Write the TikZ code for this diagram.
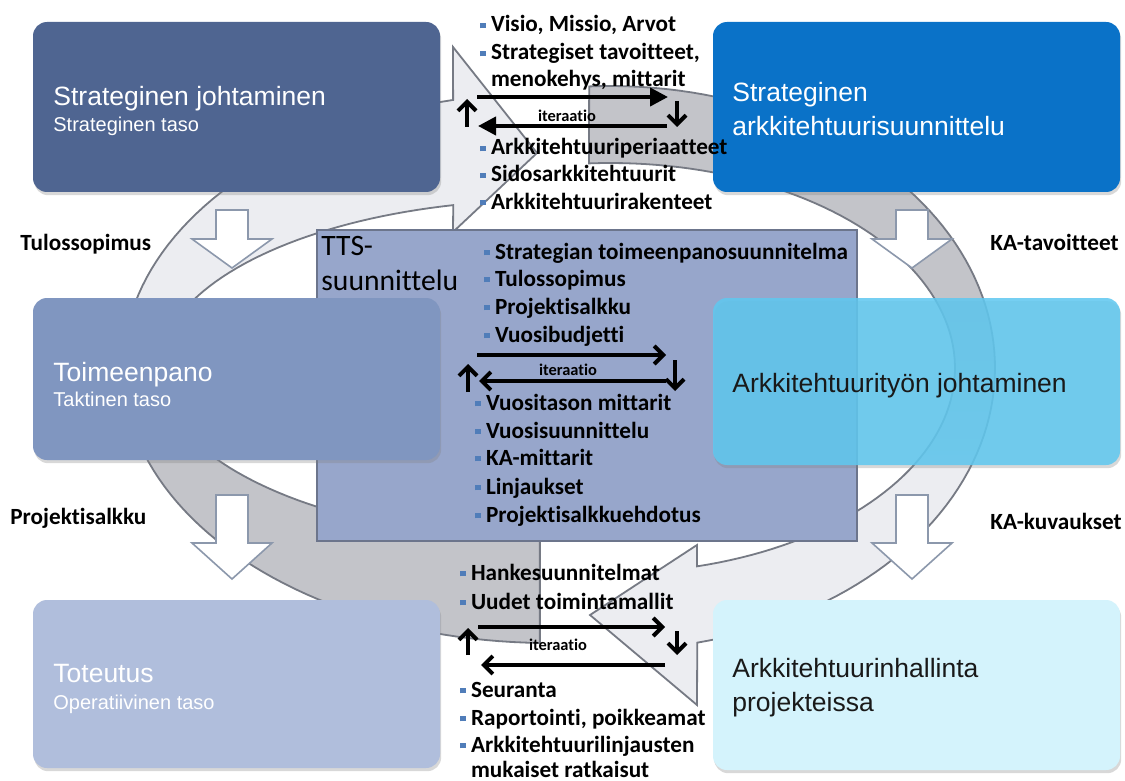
\documentclass[tikz,border=0pt]{standalone}
\usepackage{fontspec}
\setmainfont{Liberation Sans}
\newfontfamily\listfont{Carlito}[Ligatures=NoCommon]
\usetikzlibrary{arrows.meta,shadows}

\definecolor{ringgray}{RGB}{195,196,201}
\definecolor{ringlight}{RGB}{236,237,241}
\definecolor{ringline}{RGB}{118,122,132}
\definecolor{lboxA}{RGB}{79,101,145}
\definecolor{lboxB}{RGB}{128,150,192}
\definecolor{lboxC}{RGB}{176,190,220}
\definecolor{rboxA}{RGB}{10,114,200}
\definecolor{rboxB}{RGB}{95,200,240}
\definecolor{rboxC}{RGB}{212,243,252}
\definecolor{ttsfill}{RGB}{151,166,203}
\definecolor{ttsline}{RGB}{108,117,140}
\definecolor{bulletblue}{RGB}{80,125,185}
\definecolor{blockline}{RGB}{140,152,172}
\definecolor{darktext}{RGB}{25,25,25}

% list bullets
\newcommand\bul{\textcolor{bulletblue}{\rule[0.16em]{0.24em}{0.24em}}\hspace{0.22em}}
\newcommand\itm[1]{\bul#1}
\newcommand\cont[1]{\hphantom{\bul}#1}

% the two curved arrows of the cycle
\newcommand\leftArcPath{plot[domain=91.1:257.1,samples=90] ({548+425*cos(\x)},{368+275*sin(\x)})
  -- (453,47) -- (537,153) -- (453,232)
  -- plot[domain=255.9:91.2,samples=90] ({548+389*cos(\x)},{370+170*sin(\x)}) -- cycle}
\newcommand\rightArcPath{plot[domain=266.9:436.9,samples=90] ({610+385*cos(\x)},{368+282*sin(\x)})
  -- (697,705) -- (590,615) -- (697,545)
  -- plot[domain=435.4:266.5,samples=90] ({610+345*cos(\x)},{368+205*sin(\x)}) -- cycle}

\begin{document}
\begin{tikzpicture}[x=0.5pt,y=-0.5pt,
  box/.style={rectangle, rounded corners=7pt, minimum width=203.5pt, inner sep=0pt,
    drop shadow={shadow xshift=0.6pt, shadow yshift=-1.6pt, opacity=0.3}},
  ttl/.style={font=\fontsize{13.25}{16}\selectfont, anchor=base west, inner sep=0pt},
  sub/.style={font=\fontsize{10}{12}\selectfont, anchor=base west, inner sep=0pt},
  lst/.style={font=\listfont\bfseries\fontsize{11.6}{13.9}\selectfont, anchor=base west, inner sep=0pt, text=black},
  ttstitle/.style={font=\listfont\fontsize{14.8}{18}\selectfont, anchor=base west, inner sep=0pt, text=black},
  iter/.style={font=\listfont\bfseries\fontsize{8.2}{10}\selectfont, inner sep=0pt},
  itTri/.style={line width=2pt, -{Triangle[length=9pt,width=9pt]}},
  itBarb/.style={line width=2pt, -{Straight Barb[length=4.5pt,width=9pt]}},
  blockarrow/.style={fill=white, draw=blockline, line width=0.8pt, line join=miter},
  ringedge/.style={draw=ringline, line width=0.9pt}]

\useasboundingbox (0,0) rectangle (1125,781);
\fill[white] (0,0) rectangle (1125,781);

% cycle arrows in the background
\fill[ringlight] \leftArcPath;
\begin{scope}
  \clip \leftArcPath;
  \fill[ringgray] (0,460) rectangle (1125,781);
  \shade[top color=ringlight, bottom color=ringgray] (0,300) rectangle (1125,460);
\end{scope}
\fill[ringlight] \rightArcPath;
\begin{scope}
  \clip \rightArcPath;
  \fill[ringgray] (0,0) rectangle (1125,300);
  \shade[top color=ringgray, bottom color=ringlight] (0,300) rectangle (1125,460);
\end{scope}
\path[ringedge] \leftArcPath;
\path[ringedge] \rightArcPath;

% white block arrows between the levels
\path[blockarrow] (216,210) -- (248,210) -- (248,239) -- (272,239) -- (232,268) -- (192,239) -- (216,239) -- cycle;
\path[blockarrow] (896,210) -- (928,210) -- (928,239) -- (952,239) -- (912,268) -- (872,239) -- (896,239) -- cycle;
\path[blockarrow] (216,495) -- (248,495) -- (248,543) -- (272,543) -- (232,579) -- (192,543) -- (216,543) -- cycle;
\path[blockarrow] (896,495) -- (928,495) -- (928,543) -- (952,543) -- (912,579) -- (872,543) -- (896,543) -- cycle;

% central planning box
\node[draw=ttsline, fill=ttsfill, line width=0.8pt, minimum width=270pt, minimum height=155.5pt, inner sep=0pt] (tts) at (587,385.5) {};

% level boxes
\node[box, fill=lboxA, minimum height=85pt] (sj) at (236.5,107) {};
\node[box, fill=lboxB, minimum height=81pt] (tp) at (236.5,379) {};
\node[box, fill=lboxC, minimum height=84pt] (to) at (236.5,684) {};
\node[box, fill=rboxA, minimum height=85pt] (sa) at (916.5,107) {};
\node[box, fill=rboxB, fill opacity=0.86, minimum height=83.5pt] (at) at (916.5,381.5) {};
\node[box, fill=rboxC, minimum height=85pt] (ah) at (916.5,685) {};

% box texts
\node[ttl, text=white] (sjT) at (53,106) {Strateginen johtaminen};
\node[sub, text=white] (sjS) at (53,132) {Strateginen taso};
\node[ttl, text=white] (tpT) at (53,381) {Toimeenpano};
\node[sub, text=white] (tpS) at (53,406) {Taktinen taso};
\node[ttl, text=white] (toT) at (53,682) {Toteutus};
\node[sub, text=white] (toS) at (53,709) {Operatiivinen taso};
\node[ttl, text=white] (saT1) at (732,102) {Strateginen};
\node[ttl, text=white] (saT2) at (732,136) {arkkitehtuurisuunnittelu};
\node[ttl, text=darktext] (atT) at (732,392) {Arkkitehtuurityön johtaminen};
\node[ttl, text=darktext] (ahT1) at (732,677) {Arkkitehtuurinhallinta};
\node[ttl, text=darktext] (ahT2) at (732,711) {projekteissa};

\node[ttstitle] (ttsA) at (321,255) {TTS-};
\node[ttstitle] (ttsB) at (321,290) {suunnittelu};

% side labels
\node[lst] (lblTulos) at (20,250) {Tulossopimus};
\node[lst] (lblProj) at (10,524) {Projektisalkku};
\node[lst] (lblKAt) at (990,250) {KA-tavoitteet};
\node[lst] (lblKAk) at (990,529) {KA-kuvaukset};

% item lists
\foreach \yy/\txt [count=\n] in {
  32/{\itm{Visio, Missio, Arvot}},
  60/{\itm{Strategiset tavoitteet,}},
  87/{\cont{menokehys, mittarit}},
  155/{\itm{Arkkitehtuuriperiaatteet}},
  182/{\itm{Sidosarkkitehtuurit}},
  209/{\itm{Arkkitehtuurirakenteet}}}
  \node[lst] (topL\n) at (480,\yy) {\txt};

\foreach \yy/\txt [count=\n] in {
  259/{\itm{Strategian toimeenpanosuunnitelma}},
  286/{\itm{Tulossopimus}},
  314/{\itm{Projektisalkku}},
  342/{\itm{Vuosibudjetti}}}
  \node[lst] (midA\n) at (484,\yy) {\txt};

\foreach \yy/\txt [count=\n] in {
  410/{\itm{Vuositason mittarit}},
  438/{\itm{Vuosisuunnittelu}},
  465/{\itm{KA-mittarit}},
  494/{\itm{Linjaukset}},
  522/{\itm{Projektisalkkuehdotus}}}
  \node[lst] (midB\n) at (475,\yy) {\txt};

\foreach \yy/\txt [count=\n] in {
  580/{\itm{Hankesuunnitelmat}},
  609/{\itm{Uudet toimintamallit}},
  697/{\itm{Seuranta}},
  725/{\itm{Raportointi, poikkeamat}},
  752/{\itm{Arkkitehtuurilinjausten}},
  777/{\cont{mukaiset ratkaisut}}}
  \node[lst] (botL\n) at (460,\yy) {\txt};

% iteration loops
\coordinate (i1a) at (477,97);  \coordinate (i1b) at (668,97);
\coordinate (i1c) at (677,101); \coordinate (i1d) at (677,127);
\coordinate (i1e) at (667,126); \coordinate (i1f) at (478,126);
\coordinate (i1g) at (467,127); \coordinate (i1h) at (467,99);
\draw[itTri] (i1a) -- (i1b);
\draw[itBarb] (i1c) -- (i1d);
\draw[itTri] (i1e) -- (i1f);
\draw[itBarb] (i1g) -- (i1h);
\node[iter] (it1) at (567,116) {iteraatio};

\coordinate (i2a) at (477,355); \coordinate (i2b) at (666,355);
\coordinate (i2c) at (675,360); \coordinate (i2d) at (675,391);
\coordinate (i2e) at (666,381); \coordinate (i2f) at (479,381);
\coordinate (i2g) at (468,392); \coordinate (i2h) at (468,364);
\draw[itBarb] (i2a) -- (i2b);
\draw[itBarb] (i2c) -- (i2d);
\draw[itBarb] (i2e) -- (i2f);
\draw[itBarb] (i2g) -- (i2h);
\node[iter] (it2) at (568,370) {iteraatio};

\coordinate (i3a) at (478,627); \coordinate (i3b) at (665,627);
\coordinate (i3c) at (677,631); \coordinate (i3d) at (677,655);
\coordinate (i3e) at (665,665); \coordinate (i3f) at (481,665);
\coordinate (i3g) at (468,655); \coordinate (i3h) at (468,628);
\draw[itBarb] (i3a) -- (i3b);
\draw[itBarb] (i3c) -- (i3d);
\draw[itBarb] (i3e) -- (i3f);
\draw[itBarb] (i3g) -- (i3h);
\node[iter] (it3) at (558,645) {iteraatio};

\end{tikzpicture}
\end{document}
